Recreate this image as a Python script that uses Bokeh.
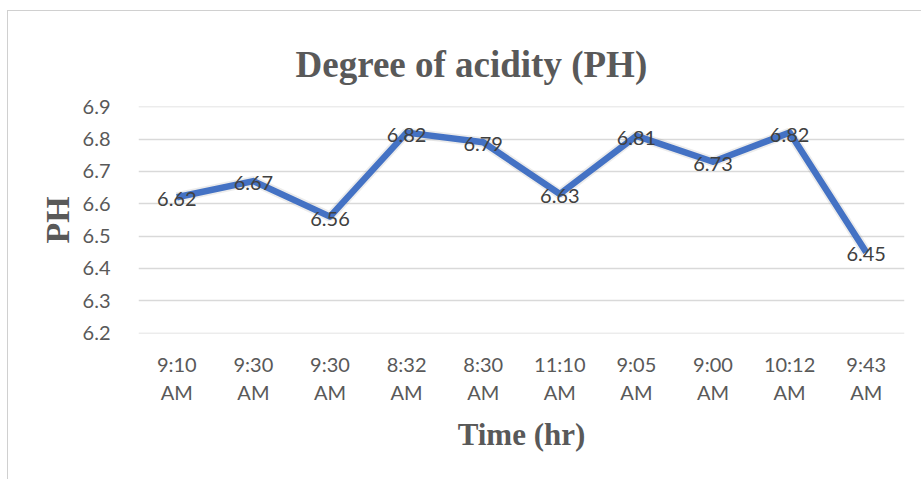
from bokeh.plotting import figure
from bokeh.layouts import column
from bokeh.models import Range1d, FixedTicker, ColumnDataSource
from bokeh.core.properties import value
from bokeh.embed import file_html
from bokeh.resources import INLINE

# ---- data ----
times = ["9:10\nAM", "9:30\nAM", "9:30\nAM", "8:32\nAM", "8:30\nAM",
         "11:10\nAM", "9:05\nAM", "9:00\nAM", "10:12\nAM", "9:43\nAM"]
ph = [6.62, 6.67, 6.56, 6.82, 6.79, 6.63, 6.81, 6.73, 6.82, 6.45]
y_ticks = [6.2, 6.3, 6.4, 6.5, 6.6, 6.7, 6.8, 6.9]
title_text = "Degree of acidity (PH)"
x_title = "Time (hr)"
y_title = "PH"

xs = list(range(len(ph)))
src = ColumnDataSource(dict(x=xs, y=ph, lbl=[f"{v:.2f}" for v in ph]))

OX, OY = 8, 11   # chart-area border offset (margin + border)
W, H = 921 - OX, 479 - OY
SANS = "Lato"
SERIF = "Liberation Serif"

p = figure(width=W, height=H, output_backend="svg", toolbar_location=None,
           x_range=Range1d(-0.5, len(ph) - 0.5), y_range=Range1d(6.1985, 6.9008),
           min_border_left=138 - OX, min_border_right=17, min_border_top=106 - OY,
           min_border_bottom=146)
p.outline_line_color = None
p.background_fill_color = "white"
p.border_fill_color = "white"

# title
p.title.text = title_text
p.title.align = "left"
p.title.vertical_align = "top"
p.title.offset = 157
p.title.standoff = 40
p.title.text_font = SERIF
p.title.text_font_style = "bold"
p.title.text_font_size = "37px"
p.title.text_color = "#595959"

# axes
for ax in (p.xaxis[0], p.yaxis[0]):
    ax.axis_line_color = None
    ax.major_tick_line_color = None
    ax.minor_tick_line_color = None
    ax.major_label_text_font = SANS
    ax.major_label_text_color = "#595959"
    ax.major_label_text_font_size = "20px"
    ax.axis_label_text_font = SERIF
    ax.axis_label_text_font_style = "bold"
    ax.axis_label_text_color = "#595959"

p.xaxis.ticker = FixedTicker(ticks=xs)
p.xaxis.major_label_overrides = {i: t for i, t in enumerate(times)}
p.xaxis.major_label_standoff = 12
p.xaxis.axis_label = x_title
p.xaxis.axis_label_text_font_size = "31px"
p.xaxis.axis_label_standoff = 10

p.yaxis.ticker = FixedTicker(ticks=y_ticks)
p.yaxis.major_label_overrides = {t: f"{t:.1f}" for t in y_ticks}
p.yaxis.major_label_standoff = 22
p.yaxis.axis_label = y_title
p.yaxis.axis_label_text_font_size = "34px"
p.yaxis.axis_label_standoff = 4

p.xgrid.grid_line_color = None
p.ygrid.grid_line_color = "#d9d9d9"
p.ygrid.grid_line_width = 1.5

# line with soft shadow
p.line("x", "y", source=src, line_color="#7f7f7f", line_alpha=0.15, line_width=10)
p.line("x", "y", source=src, line_color="#4472C4", line_width=6.5,
       line_join="round")

# data labels
p.text("x", "y", text="lbl", source=src, text_align="center",
       text_baseline="middle", y_offset=2, text_font=value(SANS),
       text_font_size="20px", text_color="#404040")

page = column(p, margin=(10, 0, 0, 7),
              styles={"border-left": "1px solid #d0d0d0",
                      "border-top": "1px solid #d0d0d0",
                      "background": "white"})

open("out.html", "w").write(file_html(page, INLINE))
